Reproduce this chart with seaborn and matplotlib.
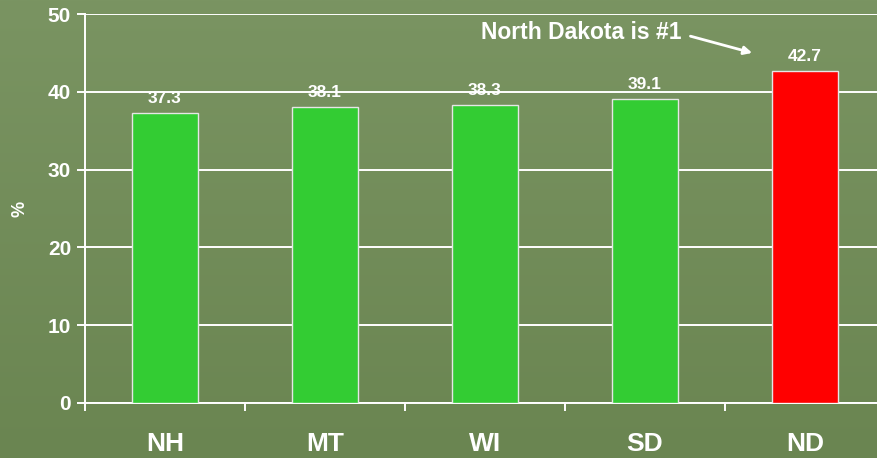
import numpy as np
import pandas as pd
import matplotlib
matplotlib.use("Agg")
import matplotlib.pyplot as plt
from matplotlib.colors import LinearSegmentedColormap
import seaborn as sns

states = ["NH", "MT", "WI", "SD", "ND"]
values = [37.3, 38.1, 38.3, 39.1, 42.7]
bar_colors = ["#33cc33", "#33cc33", "#33cc33", "#33cc33", "#ff0000"]
y_ticks = [0, 10, 20, 30, 40, 50]

WHITE = "#ffffff"
BG_TOP = "#7a9462"
BG_BOTTOM = "#6a8551"

sns.set_theme(style="white")
plt.rcParams["font.family"] = ["Liberation Sans", "DejaVu Sans"]

fig = plt.figure(figsize=(8.78, 4.58), dpi=100)

# background gradient (slide look)
bg = fig.add_axes([0, 0, 1, 1], zorder=-10)
bg.imshow(np.linspace(0, 1, 256).reshape(-1, 1), aspect="auto",
          cmap=LinearSegmentedColormap.from_list("bg", [BG_TOP, BG_BOTTOM]),
          extent=[0, 1, 0, 1])
bg.set_axis_off()

ax = fig.add_axes([0.0968, 0.1201, 0.9112, 0.8493])
ax.set_facecolor("none")

df = pd.DataFrame({"state": states, "value": values})
sns.barplot(data=df, x="state", y="value", hue="state", palette=bar_colors,
            legend=False, width=0.41, saturation=1, edgecolor="#e6e6e6",
            linewidth=1.0, ax=ax, zorder=3)

for i, v in enumerate(values):
    ax.annotate(f"{v:.1f}", (i, v), xytext=(0, 5), textcoords="offset points",
                ha="center", va="bottom", fontsize=12.5, fontweight="bold",
                color=WHITE)

ax.set_ylim(0, 50)
ax.set_xlim(-0.5, 4.5)
ax.set_yticks(y_ticks)
ax.yaxis.grid(True, color=WHITE, linewidth=1.4, zorder=0)
ax.set_axisbelow(True)

# category labels at centers, tick marks at boundaries
ax.set_xticks(range(len(states)))
ax.set_xticklabels(states)
ax.set_xticks(np.arange(-0.5, len(states), 1.0), minor=True)
ax.tick_params(axis="x", which="major", length=0, pad=21, labelsize=19,
               labelcolor=WHITE)
ax.tick_params(axis="x", which="minor", length=6, width=1.4, color=WHITE,
               direction="out", bottom=True)
ax.tick_params(axis="y", length=6, width=1.4, color=WHITE, direction="out",
               left=True, pad=4, labelsize=15, labelcolor=WHITE)
for lbl in ax.get_xticklabels() + ax.get_yticklabels():
    lbl.set_fontweight("bold")

ax.set_xlabel("")
ax.set_ylabel("%", color=WHITE, fontsize=13, fontweight="bold", labelpad=14)

for side in ["top", "right"]:
    ax.spines[side].set_visible(False)
for side in ["left", "bottom"]:
    ax.spines[side].set_color(WHITE)
    ax.spines[side].set_linewidth(1.4)

ax.annotate("North Dakota is #1", xy=(3.67, 45.0), xytext=(3.23, 47.6),
            ha="right", va="center", fontsize=16.5, fontweight="bold",
            color=WHITE,
            arrowprops=dict(arrowstyle="-|>", color=WHITE, lw=2,
                            mutation_scale=12, shrinkA=4, shrinkB=0,
                            relpos=(1.0, 0.45)))

fig.savefig("out.png", dpi=100)
